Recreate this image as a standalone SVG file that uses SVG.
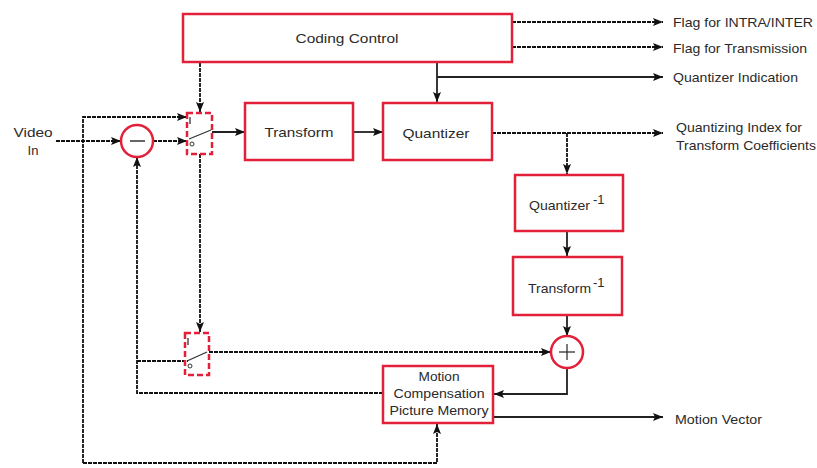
<svg xmlns="http://www.w3.org/2000/svg" width="817" height="468" viewBox="0 0 817 468">
<style>
.box{fill:#fff;stroke:#e3203a;stroke-width:2.5}
.sw{fill:none;stroke:#e3203a;stroke-width:2.5;stroke-dasharray:6 3}
.c{fill:none;stroke:#111;stroke-width:1.8;stroke-dasharray:4 1}
.s{fill:none;stroke:#222;stroke-width:1.8}
.a{marker-end:url(#ah)}
.t{font-family:"Liberation Sans",Arial,sans-serif;font-size:13px;fill:#2a2a2a}
.m{text-anchor:middle}
.thin{fill:none;stroke:#333;stroke-width:1.3}
</style>
<defs>
<marker id="ah" viewBox="0 0 10 8" refX="10" refY="4" markerWidth="10" markerHeight="8" markerUnits="userSpaceOnUse" orient="auto">
<path d="M0,0 L10,4 L0,8 L2,4 Z" fill="#111"/>
</marker>
</defs>

<g id="connectors">
<line class="c a" x1="56" y1="141" x2="121" y2="141"/>
<line class="c a" x1="153" y1="141" x2="187" y2="141"/>
<polyline class="c a" points="83,463 83,117 187,117"/>
<polyline class="c a" points="83,463 437,463 437,424"/>
<line class="c a" x1="200" y1="63" x2="200" y2="112"/>
<line class="s a" x1="212" y1="132" x2="245" y2="132"/>
<line class="s a" x1="353" y1="132" x2="383" y2="132"/>
<line class="s a" x1="437" y1="63" x2="437" y2="102"/>
<polyline class="s a" points="437,77 663,77"/>
<line class="c a" x1="512" y1="22" x2="663" y2="22"/>
<line class="c a" x1="512" y1="47" x2="663" y2="47"/>
<line class="c a" x1="492" y1="133" x2="663" y2="133"/>
<line class="c a" x1="567" y1="133" x2="567" y2="174"/>
<line class="s a" x1="567" y1="231" x2="567" y2="256"/>
<line class="s a" x1="567" y1="315" x2="567" y2="336"/>
<line class="c a" x1="200" y1="154" x2="200" y2="332"/>
<line class="c a" x1="209" y1="352" x2="551" y2="352"/>
<polyline class="s a" points="567,368 567,394 494,394"/>
<polyline class="c a" points="383,393 137,393 137,157"/>
<line class="c" x1="137" y1="361" x2="188" y2="361"/>
<line class="s a" x1="493" y1="417" x2="663" y2="417"/>
</g>

<g id="coding-control">
<rect class="box" x="183" y="14" width="329" height="48"/>
<text class="t m" x="347" y="43" font-size="14" textLength="103" lengthAdjust="spacingAndGlyphs">Coding Control</text>
</g>

<g id="subtractor">
<circle cx="137" cy="141" r="16" fill="#fff" stroke="#e3203a" stroke-width="2.5"/>
<line x1="130" y1="141" x2="145" y2="141" stroke="#333" stroke-width="1.5"/>
</g>

<g id="switch1">
<rect class="sw" x="187" y="113" width="25" height="41"/>
<line class="thin" x1="190" y1="117" x2="190" y2="124"/>
<line class="thin" x1="189" y1="139" x2="211" y2="130"/>
<circle cx="192" cy="144" r="2" fill="none" stroke="#333" stroke-width="1"/>
</g>

<g id="transform">
<rect class="box" x="245" y="103" width="108" height="57"/>
<text class="t m" x="299" y="137" font-size="14" textLength="69" lengthAdjust="spacingAndGlyphs">Transform</text>
</g>

<g id="quantizer">
<rect class="box" x="383" y="103" width="109" height="57"/>
<text class="t m" x="436" y="138" font-size="14" textLength="67" lengthAdjust="spacingAndGlyphs">Quantizer</text>
</g>

<g id="inv-quantizer">
<rect class="box" x="515" y="175" width="108" height="56"/>
<text class="t" x="529" y="210" font-size="13" textLength="61" lengthAdjust="spacingAndGlyphs">Quantizer</text>
<text class="t" x="593" y="204" font-size="10">-1</text>
</g>

<g id="inv-transform">
<rect class="box" x="513" y="257" width="109" height="58"/>
<text class="t" x="528" y="293" font-size="13" textLength="63" lengthAdjust="spacingAndGlyphs">Transform</text>
<text class="t" x="593" y="287" font-size="10">-1</text>
</g>

<g id="adder">
<circle cx="567" cy="352" r="16" fill="#fff" stroke="#e3203a" stroke-width="2.5"/>
<line x1="559" y1="352" x2="575" y2="352" stroke="#333" stroke-width="1.3"/>
<line x1="567" y1="344" x2="567" y2="360" stroke="#333" stroke-width="1.3"/>
</g>

<g id="switch2">
<rect class="sw" x="185" y="333" width="24" height="42"/>
<line class="thin" x1="188" y1="338" x2="188" y2="345"/>
<line class="thin" x1="187" y1="361" x2="207" y2="352"/>
<circle cx="190" cy="366" r="2" fill="none" stroke="#333" stroke-width="1"/>
</g>

<g id="motion-comp">
<rect class="box" x="383" y="366" width="110" height="57"/>
<text class="t m" x="439" y="381" font-size="12.5" textLength="41" lengthAdjust="spacingAndGlyphs">Motion</text>
<text class="t m" x="439" y="398" font-size="12.5" textLength="91" lengthAdjust="spacingAndGlyphs">Compensation</text>
<text class="t m" x="439" y="415" font-size="12.5" textLength="99" lengthAdjust="spacingAndGlyphs">Picture Memory</text>
</g>

<g id="labels">
<text class="t m" x="33" y="137" font-size="13.5" textLength="39" lengthAdjust="spacingAndGlyphs">Video</text>
<text class="t m" x="33" y="155" font-size="13.5">In</text>
<text class="t" x="673" y="27" textLength="140" lengthAdjust="spacingAndGlyphs">Flag for INTRA/INTER</text>
<text class="t" x="673" y="53" textLength="134" lengthAdjust="spacingAndGlyphs">Flag for Transmission</text>
<text class="t" x="673" y="82" textLength="125" lengthAdjust="spacingAndGlyphs">Quantizer Indication</text>
<text class="t" x="676" y="132" textLength="126" lengthAdjust="spacingAndGlyphs">Quantizing Index for</text>
<text class="t" x="676" y="150" textLength="140" lengthAdjust="spacingAndGlyphs">Transform Coefficients</text>
<text class="t" x="675" y="424" textLength="87" lengthAdjust="spacingAndGlyphs">Motion Vector</text>
</g>
</svg>
